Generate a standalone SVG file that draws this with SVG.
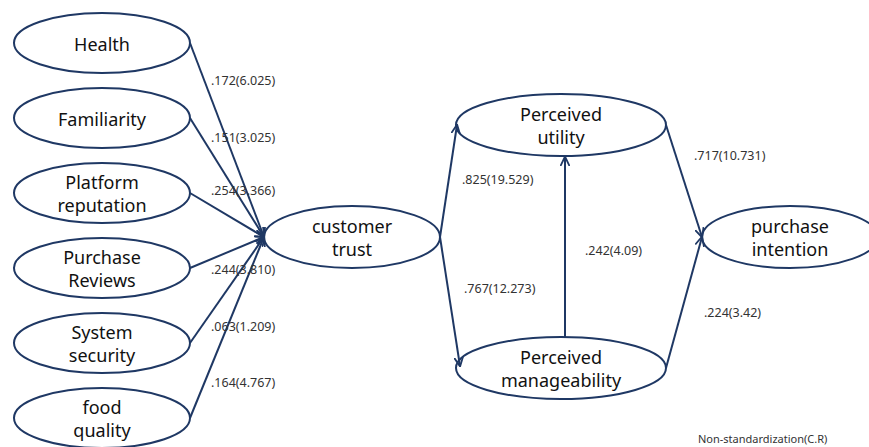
<svg xmlns="http://www.w3.org/2000/svg" width="869" height="447" viewBox="0 0 869 447">
<defs>
<marker id="ah" viewBox="0 0 10 10" refX="9" refY="5" markerWidth="10" markerHeight="10" markerUnits="userSpaceOnUse" orient="auto">
<path d="M0,0.5 L9.5,5 L0,9.5" fill="none" stroke="#1f3864" stroke-width="1.8"/>
</marker>
<style>
.n ellipse{fill:#fff;stroke:#1f3864;stroke-width:2}
.n text{font-family:"Noto Sans","Liberation Sans",sans-serif;font-size:18px;fill:#111;text-anchor:middle}
.c line{stroke:#1f3864;stroke-width:2;marker-end:url(#ah)}
.l{font-family:"Noto Sans","Liberation Sans",sans-serif;font-size:12.5px;fill:#333}
</style>
</defs>
<rect width="869" height="447" fill="#fff"/>
<g id="health" class="n"><ellipse cx="102" cy="43" rx="88" ry="30"/><text x="102" y="51">Health</text></g>
<g id="familiarity" class="n"><ellipse cx="102" cy="118" rx="88" ry="30"/><text x="102" y="126">Familiarity</text></g>
<g id="platform" class="n"><ellipse cx="102" cy="193" rx="88" ry="30"/><text x="102" y="189">Platform</text><text x="102" y="212">reputation</text></g>
<g id="reviews" class="n"><ellipse cx="102" cy="268" rx="88" ry="30"/><text x="102" y="264">Purchase</text><text x="102" y="287">Reviews</text></g>
<g id="security" class="n"><ellipse cx="102" cy="343" rx="88" ry="30"/><text x="102" y="339">System</text><text x="102" y="362">security</text></g>
<g id="food" class="n"><ellipse cx="102" cy="418" rx="88" ry="30"/><text x="102" y="414">food</text><text x="102" y="437">quality</text></g>
<g id="trust" class="n"><ellipse cx="352" cy="237" rx="88" ry="31"/><text x="352" y="233">customer</text><text x="352" y="256">trust</text></g>
<g id="utility" class="n"><ellipse cx="561" cy="125" rx="105" ry="31"/><text x="561" y="121">Perceived</text><text x="561" y="144">utility</text></g>
<g id="manageability" class="n"><ellipse cx="561" cy="368" rx="105" ry="31"/><text x="561" y="364">Perceived</text><text x="561" y="387">manageability</text></g>
<g id="intention" class="n"><ellipse cx="790" cy="237" rx="88" ry="31"/><text x="790" y="233">purchase</text><text x="790" y="256">intention</text></g>
<g class="c">
<line x1="190" y1="43" x2="264" y2="237"/>
<line x1="190" y1="118" x2="264" y2="237"/>
<line x1="190" y1="193" x2="264" y2="237"/>
<line x1="190" y1="268" x2="264" y2="237"/>
<line x1="190" y1="343" x2="264" y2="237"/>
<line x1="190" y1="418" x2="264" y2="237"/>
<line x1="440" y1="237" x2="457" y2="125"/>
<line x1="440" y1="237" x2="460" y2="366"/>
<line x1="565" y1="337" x2="565" y2="157"/>
<line x1="666" y1="125" x2="702" y2="237"/>
<line x1="666" y1="368" x2="702" y2="237"/>
</g>
<g id="labels">
<text class="l" x="211" y="85">.172(6.025)</text>
<text class="l" x="211" y="142">.151(3.025)</text>
<text class="l" x="211" y="195">.254(3.366)</text>
<text class="l" x="211" y="274">.244(3.810)</text>
<text class="l" x="211" y="331">.063(1.209)</text>
<text class="l" x="211" y="387">.164(4.767)</text>
<text class="l" x="462" y="184">.825(19.529)</text>
<text class="l" x="464" y="293">.767(12.273)</text>
<text class="l" x="585" y="255">.242(4.09)</text>
<text class="l" x="694" y="160">.717(10.731)</text>
<text class="l" x="704" y="317">.224(3.42)</text>
<text class="l" x="698" y="443" style="font-size:11px">Non-standardization(C.R)</text>
</g>
</svg>
